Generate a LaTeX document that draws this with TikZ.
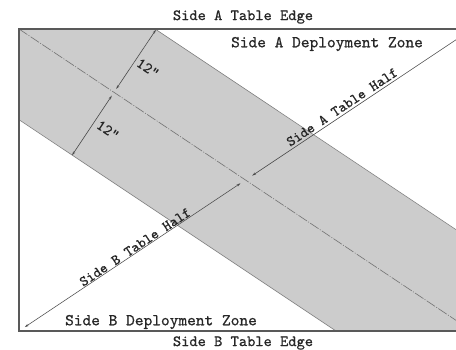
\documentclass[tikz,border=0pt]{standalone}
\usepackage{fontspec}
\newfontfamily\tw{lmmono10-regular.otf}[FakeBold=0.7]
\usetikzlibrary{arrows.meta}
\begin{document}
\begin{tikzpicture}[x=1pt,y=-1pt,
  lbl/.style={font=\tw\bfseries\fontsize{15.7}{16}\selectfont, inner sep=0pt, text=black!85},
  zonelbl/.style={font=\tw\bfseries\fontsize{16.6}{17}\selectfont, inner sep=0pt, text=black!85},
  halflbl/.style={font=\tw\bfseries\fontsize{14.6}{15}\selectfont, inner sep=0pt, text=black!85, rotate=33.69},
  dimlbl/.style={font=\tw\bfseries\fontsize{15.2}{15}\selectfont, inner sep=0pt, text=black!85, rotate=-33.69},
  band/.style={fill=black!20},
  bandedge/.style={draw=black!50, line width=0.6pt},
  centre/.style={draw=black!55, line width=0.6pt, dash pattern=on 10pt off 1.5pt on 1pt off 1.5pt},
  dimline/.style={draw=black!70, line width=0.6pt, {Stealth[length=4pt,width=2.4pt]}-{Stealth[length=4pt,width=2.4pt]}},
  frame/.style={draw=black!65, line width=1.3pt}]
\useasboundingbox (0,0) rectangle (456,350);
\coordinate (TL) at (19,29);
\coordinate (TR) at (472,29);
\coordinate (BL) at (19,331);
\coordinate (BR) at (472,331);
\coordinate (C) at (245.5,180);
% band corners
\coordinate (U1) at (155.1,29);
\coordinate (U2) at (472,240.3);
\coordinate (L1) at (19,119.7);
\coordinate (L2) at (336,331);
% anti-diagonal arrow ends
\coordinate (Aend) at (466.2,33);
\coordinate (Astart) at (252.2,175.6);
\coordinate (Bstart) at (240.5,183.3);
\coordinate (Bend) at (24.8,327.1);
% 12" dimension
\coordinate (Fu) at (116.2,89);
\coordinate (Fd) at (111.8,95.7);
\coordinate (Du) at (155.9,29.8);
\coordinate (Dd) at (72.1,155.2);
\begin{scope}
\clip (0,0) rectangle (456,350);
\fill[band] (TL) -- (U1) -- (U2) -- (BR) -- (L2) -- (L1) -- cycle;
\draw[bandedge] (U1) -- (U2);
\draw[bandedge] (L1) -- (L2);
\draw[centre] (TL) -- (BR);
\draw[dimline] (Astart) -- (Aend);
\draw[dimline] (Bstart) -- (Bend);
\draw[dimline] (Fu) -- (Du);
\draw[dimline] (Fd) -- (Dd);
\draw[frame] (TL) rectangle (BR);
\end{scope}
\node[lbl] (topedge) at (243,17) {Side A Table Edge};
\node[lbl] (botedge) at (243,343) {Side B Table Edge};
\node[zonelbl] (zoneA) at (327,44) {Side A Deployment Zone};
\node[zonelbl] (zoneB) at (161,322) {Side B Deployment Zone};
\node[halflbl] (halfA) at (342,107) {Side A Table Half};
\node[halflbl] (halfB) at (135,247) {Side B Table Half};
\node[dimlbl] (dimA) at (148,68) {12\textquotedblright};
\node[dimlbl] (dimB) at (108,130) {12\textquotedblright};
\end{tikzpicture}
\end{document}
